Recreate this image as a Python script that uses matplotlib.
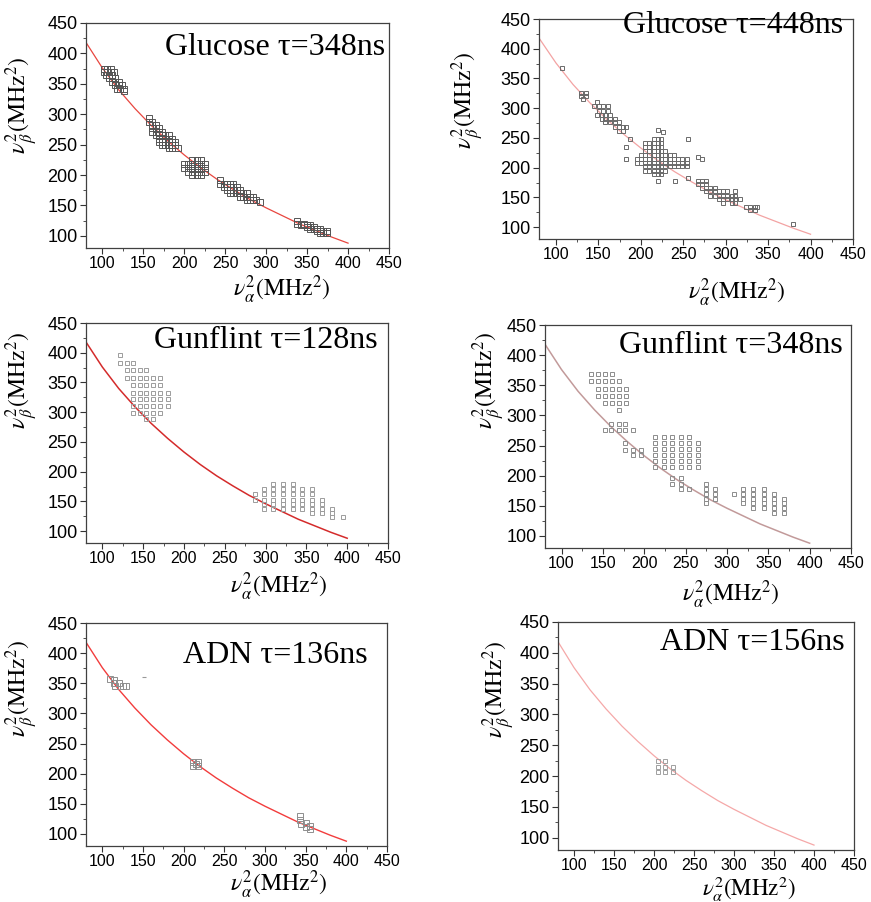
import matplotlib
matplotlib.use("Agg")
import matplotlib.pyplot as plt
from matplotlib.ticker import MultipleLocator

plt.rcParams['mathtext.fontset'] = 'stix'
plt.rcParams['font.family'] = ['Liberation Sans', 'DejaVu Sans']

# ---------------- data ----------------
tick_values = [100, 150, 200, 250, 300, 350, 400, 450]

# theoretical correlation curve  v_beta^2 vs v_alpha^2
curve_x = [80, 100, 120, 140, 160, 180, 200, 220, 240, 260, 280, 300, 320, 340, 360, 380, 400]
curve_y = [418, 376, 340, 309, 281, 256, 233, 212, 193, 176, 160, 146, 133, 120, 109, 98, 88]

titles = ["Glucose \u03c4=348ns", "Glucose \u03c4=448ns",
          "Gunflint \u03c4=128ns", "Gunflint \u03c4=348ns",
          "ADN \u03c4=136ns", "ADN \u03c4=156ns"]

# each entry: (v_beta^2 value, [v_alpha^2 values of the squares in that row])
glucose348_rows = [
    (375, [102, 106, 110]), (370, [102, 106, 110, 114]), (364, [104, 108, 112]),
    (359, [108, 112, 116]), (353, [112, 116, 120]), (348, [116, 120, 124]),
    (342, [118, 122, 126]), (338, [126]),
    (293, [157]), (288, [157, 161]), (282, [161, 165]), (277, [161, 165, 169]),
    (271, [161, 165, 169, 173]), (266, [165, 169, 173, 177, 181]),
    (260, [169, 173, 177, 181, 185]), (255, [169, 173, 177, 181, 185, 189]),
    (249, [173, 177, 181, 185, 189]), (244, [181, 185, 192]),
    (224, [210, 215, 220]), (218, [200, 205, 210, 215, 220, 225]),
    (211, [200, 205, 210, 215, 220, 225]), (205, [205, 210, 215, 220, 225]),
    (200, [210, 215, 220]),
    (192, [244]), (186, [244, 248, 252, 256, 260]), (181, [248, 252, 256, 260, 264]),
    (175, [252, 256, 260, 264, 268]), (170, [256, 260, 264, 268, 272, 276]),
    (164, [268, 272, 276, 280, 284]), (159, [276, 280, 284, 288]), (156, [292]),
    (124, [338]), (120, [338, 342, 346]), (117, [342, 346, 350, 354]),
    (114, [350, 354, 358]), (111, [354, 358, 362, 366]),
    (108, [362, 366, 370, 374]), (105, [366, 370, 374]),
]

glucose448_rows = [
    (368, [107]),
    (325, [129, 135]), (320, [129, 135]), (315, [132]),
    (310, [148]), (303, [145, 151, 156, 161]), (296, [151, 156, 161]),
    (289, [148, 154, 158, 164]), (282, [154, 158, 164, 169]),
    (276, [158, 164, 169, 174]), (268, [169, 174, 179, 183]), (262, [174, 179]),
    (264, [220]), (260, [226]), (249, [187, 256]), (234, [183]), (214, [183]),
    (218, [267]), (214, [272]), (178, [220, 240]), (183, [256]),
    (248, [215, 220, 224]), (241, [205, 210, 215, 220, 224]),
    (235, [205, 210, 215, 220, 224]), (228, [205, 210, 215, 220, 224, 229]),
    (221, [200, 205, 210, 215, 220, 224, 229, 234, 239]),
    (215, [195, 200, 205, 210, 215, 220, 224, 229, 234, 239, 244, 249, 254]),
    (208, [195, 200, 205, 210, 215, 220, 224, 229, 234, 239, 244, 249, 254]),
    (202, [205, 210, 215, 220, 224, 229, 234, 239, 244, 249, 254]),
    (195, [205, 210, 215, 220, 224, 229]), (189, [215, 220, 224]),
    (178, [267, 272, 277]), (172, [267, 272, 277]), (166, [272, 277, 282, 287]),
    (160, [277, 282, 287, 292, 297, 302, 311]),
    (153, [282, 287, 292, 297, 302, 307, 311]),
    (147, [292, 297, 302, 307, 311, 317]), (140, [297, 307, 311]),
    (133, [324, 329, 334, 337]), (128, [329, 334]),
    (106, [379]),
]

gunflint128_rows = [
    (396, [122]), (383, [122, 130, 138]), (371, [130, 138, 146, 154]),
    (357, [130, 138, 146, 154, 162, 171]), (345, [138, 146, 154, 162, 171]),
    (333, [138, 146, 154, 162, 171, 180]), (322, [138, 146, 154, 162, 171, 180]),
    (310, [138, 146, 154, 162, 171, 180]), (298, [138, 146, 154, 162, 171]),
    (288, [154, 162]),
    (180, [309, 321, 333]), (171, [298, 309, 321, 333, 345, 357]),
    (162, [287, 298, 309, 321, 333, 345, 357]),
    (153, [287, 298, 309, 321, 333, 345, 357, 369]),
    (145, [298, 309, 321, 333, 345, 357, 369]),
    (137, [298, 309, 321, 333, 345, 357, 369, 382]),
    (130, [357, 369, 382]), (123, [382, 395]),
]

gunflint348_rows = [
    (369, [136, 144, 152, 161]), (357, [136, 144, 152, 161, 170]),
    (344, [144, 152, 161, 170, 178]), (333, [144, 152, 161, 170, 178]),
    (321, [152, 161, 170, 178]), (309, [170]),
    (286, [160, 169, 177]), (275, [152, 160, 169, 177, 186]),
    (254, [177]), (243, [177, 186, 196]), (234, [186, 196]),
    (265, [213, 224, 234, 244, 254]), (255, [213, 224, 234, 244, 254, 265]),
    (245, [213, 224, 234, 244, 254, 265]), (235, [213, 224, 234, 244, 254, 265]),
    (224, [213, 224, 234, 244, 254, 265]), (215, [213, 224, 234, 244, 254, 265]),
    (196, [234, 244]), (187, [234, 244, 275]),
    (178, [244, 254, 275, 286, 320, 332, 345]),
    (170, [275, 286, 309, 320, 332, 345, 357]),
    (162, [275, 286, 320, 332, 345, 357, 369]),
    (154, [275, 320, 332, 345, 357, 369]),
    (146, [332, 345, 357, 369]), (138, [357, 369]),
]

adn136_rows = [
    (357, [109]), (355, [114]), (350, [114]), (345, [116, 126, 129]), (351, [120]),
    (219, [212, 218]), (216, [215]), (213, [212, 218]),
    (130, [343]), (123, [343]), (117, [344]), (118, [350]), (112, [350]),
    (114, [355]), (109, [355]),
]
adn136_stub_x = [151]
adn136_stub_y = [361]

adn156_rows = [
    (224, [205, 214]), (215, [205, 214, 224]), (206, [205, 214, 224]),
]

panel_rows = [glucose348_rows, glucose448_rows, gunflint128_rows,
              gunflint348_rows, adn136_rows, adn156_rows]

# ---------------- layout / style ----------------
W, H = 871, 902
fig = plt.figure(figsize=(W / 100, H / 100), dpi=100)
fig.patch.set_facecolor('white')

# axes boxes in pixels: left, top, right, bottom
boxes = [(86, 23, 389, 248), (539, 19, 853, 239),
         (86, 323, 388, 543), (545, 325, 851, 548),
         (86, 623, 387, 846), (558, 622, 854, 850)]
title_pos = [(385, 55), (843, 33), (378, 348), (843, 353), (368, 663), (845, 650)]
xlabel_pos = [(233, 290), (688, 293), (230, 587), (682, 595), (230, 885), (702, 889)]
ylabel_pos = [(22, 105), (468, 100), (22, 380), (489, 380), (22, 688), (499, 689)]
xlabel_sizes = [17, 17, 17, 17, 17, 16.5]
curve_colors = ['#e8463f', '#f3a3a3', '#d42b2b', '#c29a9a', '#f23c3c', '#f5a8a8']
curve_lw = [0.9, 0.9, 1.1, 1.1, 1.0, 0.9]
marker_colors = ['#555555', '#6a6a6a', '#9c9c9c', '#8c8c8c', '#8e8e8e', '#a0a0a0']
marker_sizes = [3.7, 3.5, 3.0, 3.0, 3.8, 3.2]

serif = ['Liberation Serif', 'DejaVu Serif']


def fx(px):
    return px / W


def fy(py):
    return 1 - py / H


for i in range(6):
    l, t, r, b = boxes[i]
    ax = fig.add_axes([fx(l), fy(b), (r - l) / W, (b - t) / H])
    ax.set_xlim(80, 450)
    ax.set_ylim(80, 450)
    ax.plot(curve_x, curve_y, color=curve_colors[i], lw=curve_lw[i], zorder=2)

    xs, ys = [], []
    for yv, xlist in panel_rows[i]:
        for xv in xlist:
            xs.append(xv)
            ys.append(yv)
    ax.plot(xs, ys, linestyle='none', marker='s', ms=marker_sizes[i],
            mfc='none', mec=marker_colors[i], mew=0.7, zorder=3)
    if i == 4:
        ax.plot(adn136_stub_x, adn136_stub_y, linestyle='none', marker='_',
                ms=3, mec='#999999', mew=0.8, zorder=3)

    ax.set_xticks(tick_values)
    ax.set_yticks(tick_values)
    ax.xaxis.set_minor_locator(MultipleLocator(25))
    ax.yaxis.set_minor_locator(MultipleLocator(25))
    ax.tick_params(which='major', direction='out', length=4, width=0.8,
                   color='#333333', pad=2)
    ax.tick_params(axis='x', which='major', labelsize=11.5)
    ax.tick_params(axis='y', which='major', labelsize=13)
    ax.tick_params(which='minor', direction='out', length=2.5, width=0.6,
                   color='#333333')
    for s in ax.spines.values():
        s.set_color('#404040')
        s.set_linewidth(0.9)

    fig.text(fx(title_pos[i][0]), fy(title_pos[i][1]), titles[i],
             ha='right', va='baseline', fontsize=23, family=serif)
    fig.text(fx(xlabel_pos[i][0]), fy(xlabel_pos[i][1]),
             r'$\nu_{\alpha}^{2}(\mathrm{MHz}^{2})$', ha='left', va='center',
             fontsize=xlabel_sizes[i])
    fig.text(fx(ylabel_pos[i][0]), fy(ylabel_pos[i][1]),
             r'$\nu_{\beta}^{2}(\mathrm{MHz}^{2})$', ha='center', va='center',
             rotation=90, fontsize=17)

fig.savefig('out.png', dpi=100, facecolor='white')
